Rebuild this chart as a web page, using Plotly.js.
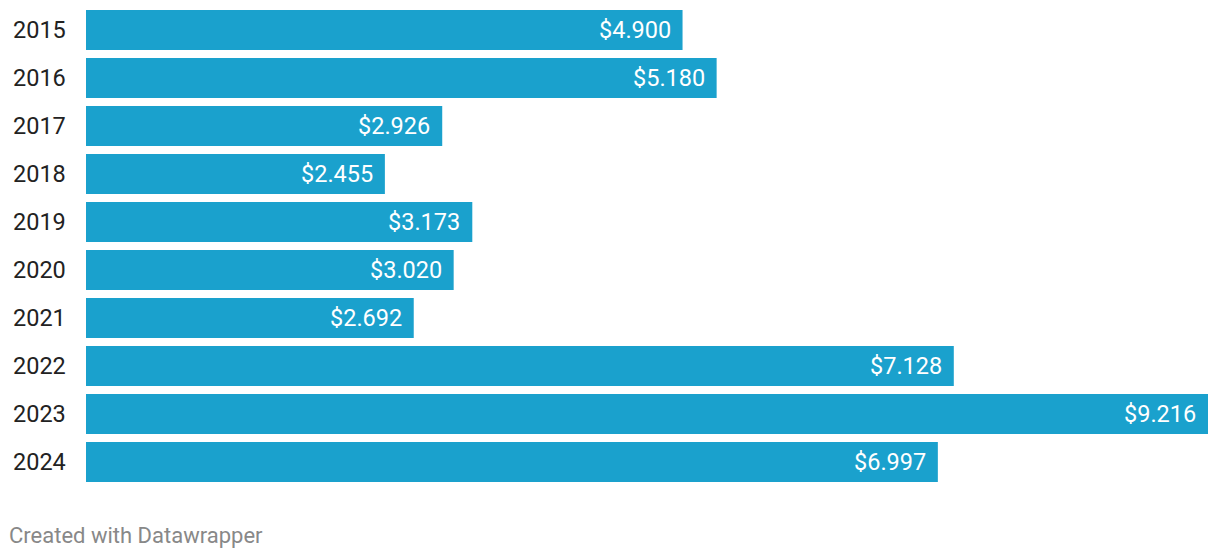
<!DOCTYPE html>
<html>
<head>
<meta charset="utf-8">
<script src="https://cdn.plot.ly/plotly-3.0.1.min.js"></script>
<style>
html,body{margin:0;padding:0;background:#fff;}
#chart{width:1220px;height:558px;}
</style>
</head>
<body>
<div id="chart"></div>
<script>
const years = ["2015","2016","2017","2018","2019","2020","2021","2022","2023","2024"];
const values = [4.900, 5.180, 2.926, 2.455, 3.173, 3.020, 2.692, 7.128, 9.216, 6.997];
const valueLabels = ["$4.900","$5.180","$2.926","$2.455","$3.173","$3.020","$2.692","$7.128","$9.216","$6.997"];

const FONT = "Roboto, 'Open Sans', sans-serif";

const annotations = [];
years.forEach((y, i) => {
  annotations.push({
    x: -0.06595, xref: 'paper', y: i, yref: 'y',
    text: y, showarrow: false, xanchor: 'left', yanchor: 'middle',
    xshift: 0, borderpad: 0,
    font: {family: FONT, size: 23.5, color: '#222222'}
  });
  annotations.push({
    x: values[i], xref: 'x', y: i, yref: 'y',
    text: valueLabels[i], showarrow: false, xanchor: 'right', yanchor: 'middle',
    xshift: -11, borderpad: 0,
    font: {family: FONT, size: 23.5, color: '#ffffff'}
  });
});
annotations.push({
  x: -0.0677, xref: 'paper', y: -0.103, yref: 'paper',
  text: 'Created with Datawrapper', showarrow: false, xanchor: 'left', yanchor: 'middle',
  xshift: -2, borderpad: 0,
  font: {family: FONT, size: 22, color: '#888888'}
});

const trace = {
  type: 'bar', orientation: 'h',
  x: values, y: years,
  marker: {color: '#1aa1cd'},
  hoverinfo: 'skip'
};

const layout = {
  width: 1220, height: 558,
  margin: {l: 86, r: 12, t: 6, b: 72, pad: 0},
  paper_bgcolor: '#ffffff', plot_bgcolor: '#ffffff',
  bargap: 0.1667,
  showlegend: false,
  xaxis: {range: [0, 9.216], visible: false, fixedrange: true},
  yaxis: {type: 'category', range: [9.5, -0.5], autorange: false, showticklabels: false, showgrid: false, zeroline: false, showline: false, ticks: '', fixedrange: true},
  annotations: annotations
};

Plotly.newPlot('chart', [trace], layout, {displayModeBar: false, staticPlot: true});
</script>
</body>
</html>
